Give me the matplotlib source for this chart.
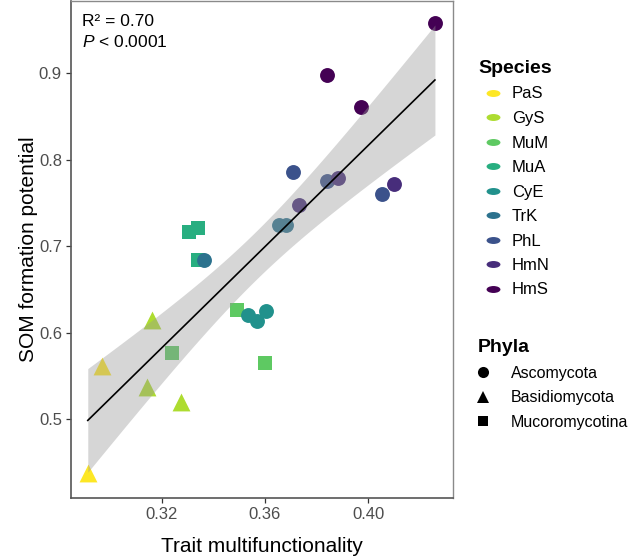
import numpy as np
import matplotlib
matplotlib.use("Agg")
import matplotlib.pyplot as plt
from matplotlib.lines import Line2D
from matplotlib.path import Path

plt.rcParams['font.family'] = ['Liberation Sans', 'DejaVu Sans']
plt.rcParams['mathtext.fontset'] = 'custom'
plt.rcParams['mathtext.rm'] = 'Liberation Sans'
plt.rcParams['mathtext.it'] = 'Liberation Sans:italic'

# legend categories
species = ['PaS', 'GyS', 'MuM', 'MuA', 'CyE', 'TrK', 'PhL', 'HmN', 'HmS']
phyla = ['Ascomycota', 'Basidiomycota', 'Mucoromycotina']
phyla_markers = {'Ascomycota': 'o', 'Basidiomycota': '^', 'Mucoromycotina': 's'}
phyla_sizes = {'Ascomycota': 115, 'Basidiomycota': 165, 'Mucoromycotina': 100}

# one entry per isolate
point_species = ['PaS', 'PaS',
                 'GyS', 'GyS', 'GyS',
                 'MuM', 'MuM', 'MuM',
                 'MuA', 'MuA', 'MuA',
                 'CyE', 'CyE', 'CyE',
                 'TrK', 'TrK', 'TrK',
                 'PhL', 'PhL', 'PhL',
                 'HmN', 'HmN', 'HmN',
                 'HmS', 'HmS', 'HmS']
point_phylum = ['Basidiomycota'] * 5 + ['Mucoromycotina'] * 6 + ['Ascomycota'] * 15
trait_mf = [0.2914, 0.2968,
            0.3164, 0.3144, 0.3275,
            0.3239, 0.3490, 0.3600,
            0.3306, 0.3340, 0.3342,
            0.3535, 0.3568, 0.3604,
            0.3365, 0.3655, 0.3682,
            0.3710, 0.3839, 0.4054,
            0.3733, 0.3884, 0.4098,
            0.3842, 0.3970, 0.4258]
som_potential = [0.4376, 0.5616,
                 0.6147, 0.5376, 0.5203,
                 0.5762, 0.6262, 0.5654,
                 0.7160, 0.7213, 0.6840,
                 0.6205, 0.6139, 0.6254,
                 0.6840, 0.7244, 0.7244,
                 0.7855, 0.7755, 0.7610,
                 0.7475, 0.7794, 0.7720,
                 0.8976, 0.8610, 0.9580]

cmap = plt.get_cmap('viridis')
species_colors = {s: cmap(1 - i / (len(species) - 1)) for i, s in enumerate(species)}

x = np.array(trait_mf)
y = np.array(som_potential)

# linear fit with 95% confidence band
n = len(x)
slope, intercept = np.polyfit(x, y, 1)
resid = y - (slope * x + intercept)
s_err = np.sqrt(np.sum(resid ** 2) / (n - 2))
sxx = np.sum((x - x.mean()) ** 2)
xs = np.linspace(x.min(), x.max(), 100)
ys = slope * xs + intercept
t_val = 2.064  # t(0.975, df=24)
half = t_val * s_err * np.sqrt(1 / n + (xs - x.mean()) ** 2 / sxx)

fig = plt.figure(figsize=(6.33, 5.58), dpi=100)
ax = fig.add_axes([71 / 633, 1 - 497.5 / 558, (453 - 71) / 633, 496.5 / 558])

for xi, yi, sp, ph in zip(x, y, point_species, point_phylum):
    ax.scatter(xi, yi, color=species_colors[sp], marker=phyla_markers[ph],
               s=phyla_sizes[ph], linewidths=0, zorder=2)

ax.fill_between(xs, ys - half, ys + half, color='#999999', alpha=0.4,
                linewidth=0, zorder=3)
ax.plot(xs, ys, color='black', lw=1.2, zorder=4)

ax.set_xlim(0.2849, 0.4328)
ax.set_ylim(0.4096, 0.9836)
ax.set_xticks([0.32, 0.36, 0.40])
ax.set_xticklabels(['0.32', '0.36', '0.40'])
ax.set_yticks([0.5, 0.6, 0.7, 0.8, 0.9])
ax.set_yticklabels(['0.5', '0.6', '0.7', '0.8', '0.9'])
ax.tick_params(length=3.5, width=0.9, color='#333333', labelcolor='#4D4D4D',
               labelsize=12, pad=3)

for side in ['left', 'bottom']:
    ax.spines[side].set_color('#555555')
    ax.spines[side].set_linewidth(1.2)
for side in ['top', 'right']:
    ax.spines[side].set_color('#8a8a8a')
    ax.spines[side].set_linewidth(1.0)

ax.set_xlabel('Trait multifunctionality', fontsize=15, va='center')
ax.set_ylabel('SOM formation potential', fontsize=15, va='center')
ax.xaxis.set_label_coords(0.5, (497.5 - 546) / 496.5)
ax.yaxis.set_label_coords((29 - 71) / 382, 0.5)

ax.text(0.028, 0.9497, 'R² = 0.70', transform=ax.transAxes, fontsize=12.5,
        va='baseline', ha='left')
ax.text(0.028, 0.9074, r'$\mathit{P}$ < 0.0001', transform=ax.transAxes,
        fontsize=12.5, va='baseline', ha='left')

# legends
circ = Path.unit_circle()
ellipse = Path(circ.vertices * np.array([1.0, 0.5]), circ.codes)
sp_handles = [Line2D([], [], ls='none', marker=ellipse, markersize=10,
                     markerfacecolor=species_colors[s], markeredgewidth=0)
              for s in species]
leg1 = fig.legend(sp_handles, species, loc='upper left',
                  bbox_to_anchor=(478 / 633, 1 - 60 / 558), frameon=False,
                  title='Species', alignment='left', fontsize=12,
                  title_fontproperties={'weight': 'bold', 'size': 14},
                  borderpad=0, borderaxespad=0, handlelength=1.8,
                  handletextpad=0.22, labelspacing=0.57)

ph_handles = [Line2D([], [], ls='none', marker=phyla_markers[p], color='black',
                     markersize={'o': 8, '^': 9, 's': 7.5}[phyla_markers[p]],
                     markeredgewidth=0)
              for p in phyla]
leg2 = fig.legend(ph_handles, phyla, loc='upper left',
                  bbox_to_anchor=(478 / 633, 1 - 339 / 558), frameon=False,
                  title='Phyla', alignment='left', fontsize=11.5,
                  title_fontproperties={'weight': 'bold', 'size': 14},
                  borderpad=0, borderaxespad=0, handlelength=0.62,
                  handletextpad=1.45, labelspacing=0.6)

fig.savefig('out.png', dpi=100)
